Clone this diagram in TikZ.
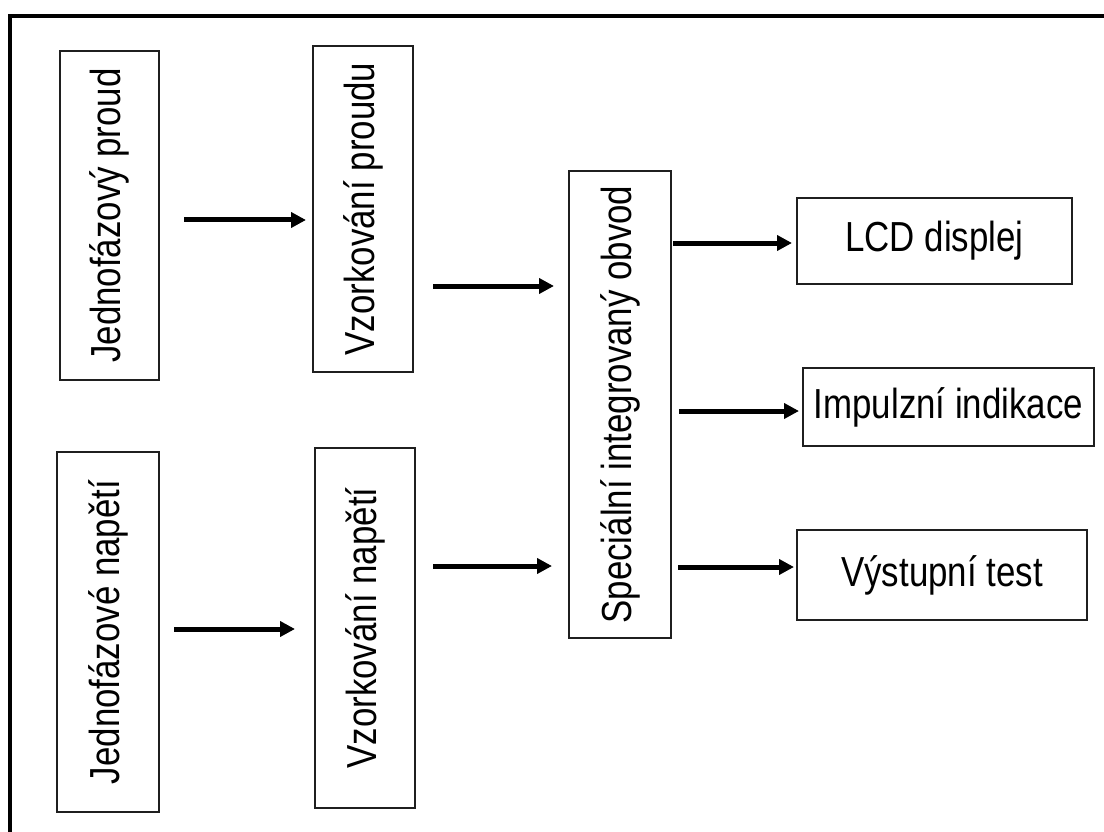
\documentclass[tikz,border=0pt]{standalone}
\usepackage{fontspec}
\setmainfont[FakeStretch=0.83]{Liberation Sans}
\usetikzlibrary{arrows.meta}
\tikzset{
  blk/.style={draw=black!88, line width=2pt, inner sep=0pt, font=\fontsize{42}{48}\selectfont},
  arr/.style={line width=5pt, -{Triangle[length=15pt,width=15pt]}},
  frame/.style={line width=4pt}
}
\begin{document}
\begin{tikzpicture}[x=1pt,y=-1pt]
\useasboundingbox (0,0) rectangle (1104,832);
\clip (0,0) rectangle (1104,832);
\fill[white] (0,0) rectangle (1104,832);
\draw[frame] (10,16) rectangle (1130,860);

\node[blk, minimum width=99pt, minimum height=329pt] (A) at (109.5,215.5) {\rotatebox{90}{Jednofázový proud}};
\node[blk, minimum width=100pt, minimum height=326pt] (B) at (363,209) {\rotatebox{90}{Vzorkování proudu}};
\node[blk, minimum width=102pt, minimum height=360pt] (C) at (108,632) {\rotatebox{90}{Jednofázové napětí}};
\node[blk, minimum width=100pt, minimum height=360pt] (D) at (365,628) {\rotatebox{90}{Vzorkování napětí}};
\node[blk, minimum width=102pt, minimum height=467pt] (E) at (620,404.5) {\rotatebox{90}{Speciální integrovaný obvod}};
\node[blk, minimum width=275pt, minimum height=86pt] (F) at (934.5,241) {LCD displej};
\node[blk, minimum width=291pt, minimum height=78pt] (G) at (948.5,407) {Impulzní indikace};
\node[blk, minimum width=290pt, minimum height=90pt] (H) at (942,575) {Výstupní test};

\draw[arr, shorten <=24pt, shorten >=6pt] (A.east |- 0,220) -- (B.west |- 0,220);
\draw[arr, shorten <=19pt, shorten >=14pt] (B.east |- 0,286) -- (E.west |- 0,286);
\draw[arr, shorten <=14pt, shorten >=19pt] (C.east |- 0,629) -- (D.west |- 0,629);
\draw[arr, shorten <=17pt, shorten >=16pt] (D.east |- 0,566) -- (E.west |- 0,566);
\draw[arr, shorten <=1pt, shorten >=4pt] (E.east |- 0,243) -- (F.west |- 0,243);
\draw[arr, shorten <=7pt, shorten >=3pt] (E.east |- 0,411) -- (G.west |- 0,411);
\draw[arr, shorten <=6pt, shorten >=2pt] (E.east |- 0,567) -- (H.west |- 0,567);
\end{tikzpicture}
\end{document}
